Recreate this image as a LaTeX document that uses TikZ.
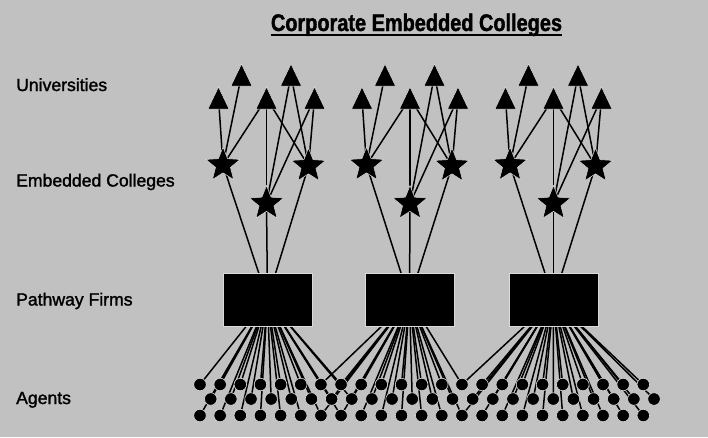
\documentclass[tikz,border=0pt]{standalone}
\usepackage{fontspec}
\setmainfont{Liberation Sans}
\newfontfamily\labfont[FakeBold=1.5]{Liberation Sans}
\newfontfamily\titlefont[FakeStretch=0.83,FakeBold=1.5]{Liberation Sans}
\usetikzlibrary{shapes.geometric}
\definecolor{bgc}{RGB}{193,193,193}
\definecolor{halo}{RGB}{218,218,218}
\pgfdeclarelayer{bg}
\pgfdeclarelayer{edges}
\pgfsetlayers{bg,edges,main}
\begin{document}
\begin{tikzpicture}[x=1pt,y=-1pt,
  edge/.style={line width=1.5pt,black},
  agent/.style={circle,fill=black,draw=halo,line width=0.6pt,inner sep=0pt,minimum size=12.5pt},
  college/.style={star,star points=5,star point ratio=2.3,fill=black,draw=halo,line width=0.5pt,inner sep=0pt,minimum size=36pt},
  firm/.style={rectangle,fill=black,draw=halo,line width=0.6pt,inner sep=0pt,minimum width=89pt,minimum height=53pt},
  unitri/.style={fill=black,draw=halo,line width=0.5pt},
  lab/.style={anchor=base west,inner sep=0pt,font=\labfont\fontsize{17.6}{20}\selectfont},
  ttl/.style={anchor=base,inner sep=0pt,font=\titlefont\bfseries\fontsize{24}{28}\selectfont}]
\begin{pgfonlayer}{bg}
\fill[bgc] (0,0) rectangle (708,437);
\end{pgfonlayer}
\useasboundingbox (0,0) rectangle (708,437);

% title and labels
\node[ttl] (title) at (416.5,31) {Corporate Embedded Colleges};
\draw[line width=1.6pt] ([yshift=-4pt]title.base west) -- ([yshift=-4pt]title.base east);
\node[lab] (lu) at (16,91) {Universities};
\node[lab] (le) at (16,186.5) {Embedded Colleges};
\node[lab] (lp) at (16,305.5) {Pathway Firms};
\node[lab] (la) at (16,404) {Agents};

% agents
\foreach \k in {0,...,22} {
  \node[agent] (a1-\k) at ({200+20.15*\k},384.5) {};
  \node[agent] (a2-\k) at ({210.7+20.15*\k},399) {};
  \node[agent] (a3-\k) at ({200+20.15*\k},415.5) {};
}

% groups
\foreach \g/\cx/\rx in {1/266.5/267.5, 2/410/409.5, 3/553.5/553.5} {
  \coordinate (u\g-1) at ({\cx-48},98);
  \coordinate (u\g-2) at ({\cx-25},75);
  \coordinate (u\g-3) at ({\cx},98);
  \coordinate (u\g-4) at ({\cx+24.5},75);
  \coordinate (u\g-5) at ({\cx+48},98);
  \node[college] (s\g-1) at ({\cx-43.5},165) {};
  \node[college] (s\g-2) at ({\cx},203.5) {};
  \node[college] (s\g-3) at ({\cx+42},166) {};
  \node[firm] (f\g) at (\rx,299.5) {};
  \foreach \i in {1,...,5} {
    \filldraw[unitri,shift={(u\g-\i)}] (0,-11) -- (10.5,11) -- (-10.5,11) -- cycle;
  }
  \begin{pgfonlayer}{edges}
    \foreach \a/\b in {1/1,1/2,1/3,3/3,3/4,3/5,2/3,2/4,2/5} {
      \draw[edge] (s\g-\a.center) -- (u\g-\b);
    }
    \foreach \a in {1,2,3} {
      \draw[edge] (s\g-\a.center) -- (f\g.center);
    }
  \end{pgfonlayer}
}

% agent connections
\begin{pgfonlayer}{edges}
  \foreach \k in {0,...,7} {
    \foreach \r in {1,2,3} { \draw[edge] (f1.center) -- (a\r-\k.center); }
  }
  \foreach \k in {6,...,13} {
    \draw[edge] (f2.center) -- (a1-\k.center);
    \draw[edge] (f2.center) -- (a3-\k.center);
  }
  \foreach \k in {6,...,12} {
    \draw[edge] (f2.center) -- (a2-\k.center);
  }
  \foreach \k in {13,...,22} {
    \foreach \r in {1,2,3} { \draw[edge] (f3.center) -- (a\r-\k.center); }
  }
\end{pgfonlayer}
\end{tikzpicture}
\end{document}
